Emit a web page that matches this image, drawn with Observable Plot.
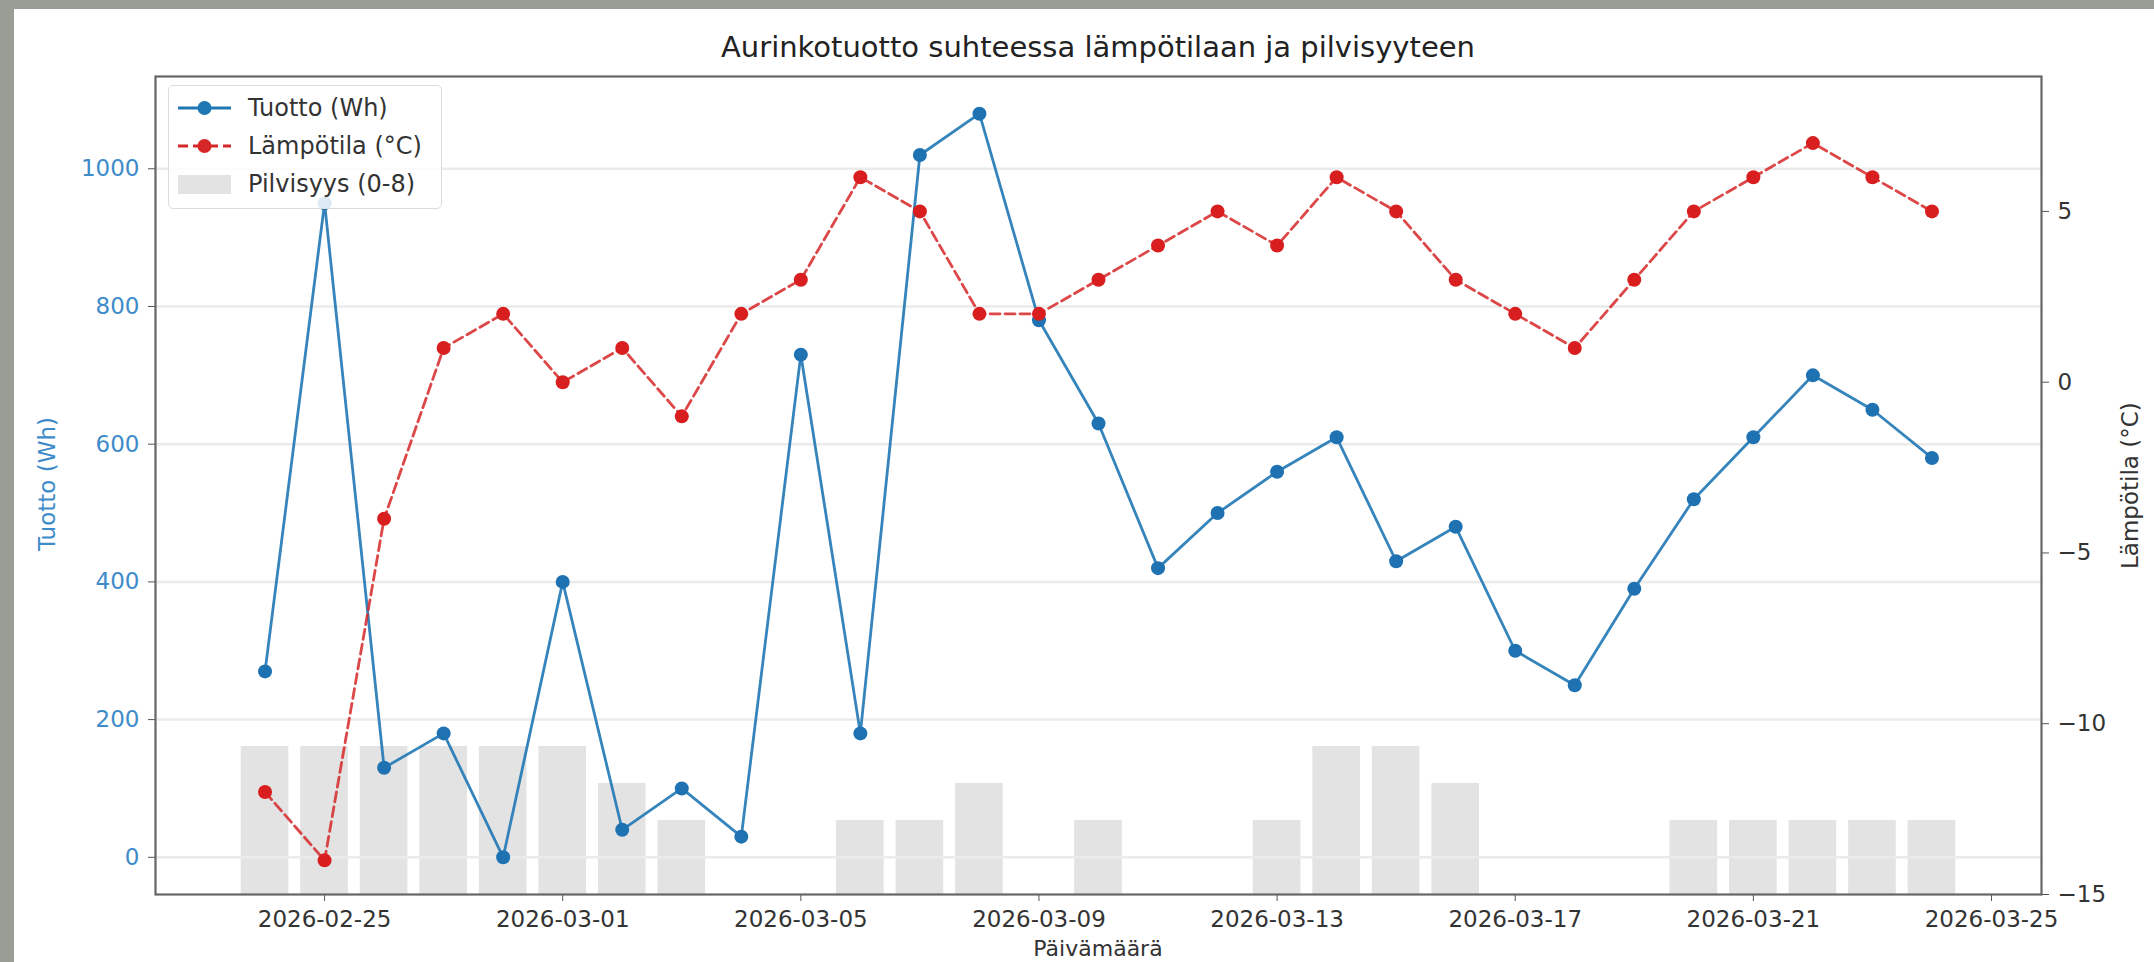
<!DOCTYPE html>
<html>
<head>
<meta charset="utf-8">
<script src="https://cdn.jsdelivr.net/npm/d3@7"></script>
<script src="https://cdn.jsdelivr.net/npm/@observablehq/plot@0.6"></script>
<style>
  body { margin: 0; background: #fff; font-family: "DejaVu Sans", sans-serif; }
  #root { position: relative; width: 2154px; height: 962px; overflow: hidden; background: #fff; }
  .layer { position: absolute; left: 0; top: 0; }
  .layer svg { display: block; max-width: none; }
  #bandTop { position: absolute; left: 0; top: 0; width: 2154px; height: 9px; background: #9a9d95; }
  #bandLeft { position: absolute; left: 0; top: 0; width: 14px; height: 962px; background: #9a9c96; }
  #title { position: absolute; left: 155px; width: 1886px; top: 30px; text-align: center; font-size: 29px; color: #222; line-height: 34px; }
  .ylab { position: absolute; white-space: nowrap; font-size: 23px; line-height: 26px; transform-origin: center center; }
  #ylabL { left: -23px; top: 471px; width: 140px; text-align: center; color: #3d8bc9; transform: rotate(-90deg); }
  #ylabR { left: 2048px; top: 474px; width: 164px; text-align: center; color: #333; transform: rotate(-90deg); }
  #xlab { position: absolute; left: 155px; width: 1886px; top: 936px; line-height: 25px; text-align: center; font-size: 22px; color: #333; }
  #legend { position: absolute; left: 168px; top: 85px; width: 274px; height: 124px; border: 1.5px solid #dcdcdc; border-radius: 5px; background: rgba(255,255,255,0.85); box-sizing: border-box; }
  #legend svg { position: absolute; left: 0; top: 0; }
</style>
</head>
<body>
<div id="root">
  <div id="bars" class="layer"></div>
  <div id="main" class="layer"></div>
  <div id="temp" class="layer"></div>
  <div id="title">Aurinkotuotto suhteessa lämpötilaan ja pilvisyyteen</div>
  <div id="ylabL" class="ylab">Tuotto (Wh)</div>
  <div id="ylabR" class="ylab">Lämpötila (°C)</div>
  <div id="xlab">Päivämäärä</div>
  <div id="legend"></div>
  <div id="bandTop"></div>
  <div id="bandLeft"></div>
</div>
<script>
// ---- data ----
const dates = ["2026-02-24","2026-02-25","2026-02-26","2026-02-27","2026-02-28","2026-03-01","2026-03-02","2026-03-03","2026-03-04","2026-03-05","2026-03-06","2026-03-07","2026-03-08","2026-03-09","2026-03-10","2026-03-11","2026-03-12","2026-03-13","2026-03-14","2026-03-15","2026-03-16","2026-03-17","2026-03-18","2026-03-19","2026-03-20","2026-03-21","2026-03-22","2026-03-23","2026-03-24"];
const tuotto = [270, 950, 130, 180, 0, 400, 40, 100, 30, 730, 180, 1020, 1080, 780, 630, 420, 500, 560, 610, 430, 480, 300, 250, 390, 520, 610, 700, 650, 580];
const lampotila = [-12, -14, -4, 1, 2, 0, 1, -1, 2, 3, 6, 5, 2, 2, 3, 4, 5, 4, 6, 5, 3, 2, 1, 3, 5, 6, 7, 6, 5];
const pilvisyys = [8, 8, 8, 8, 8, 8, 6, 4, 0, 0, 4, 4, 6, 0, 4, 0, 0, 4, 8, 8, 6, 0, 0, 0, 4, 4, 4, 4, 4];
const xTickLabels = ["2026-02-25","2026-03-01","2026-03-05","2026-03-09","2026-03-13","2026-03-17","2026-03-21","2026-03-25"];
const leftTicks = [0, 200, 400, 600, 800, 1000];
const rightTicks = [-15, -10, -5, 0, 5];

// ---- build ----
const DAY = 864e5;
const parse = s => new Date(s + "T00:00:00Z");
const rows = dates.map((d, i) => ({date: parse(d), tuotto: tuotto[i], temp: lampotila[i], cloud: pilvisyys[i]}));
const xTicks = xTickLabels.map(parse);
const xDomain = [new Date(+rows[0].date - 1.84 * DAY), new Date(+rows[rows.length - 1].date + 1.84 * DAY)];

const common = {
  width: 2154, height: 962,
  marginLeft: 155, marginRight: 113, marginTop: 76, marginBottom: 68,
  style: {background: "transparent", fontFamily: "DejaVu Sans", fontSize: "23px", overflow: "visible"}
};

const barsPlot = Plot.plot({
  ...common,
  x: {type: "utc", domain: xDomain, axis: null},
  y: {domain: [0, 44.2], axis: null},
  marks: [
    Plot.rect(rows.filter(d => d.cloud > 0), {
      x1: d => new Date(+d.date - 0.4 * DAY),
      x2: d => new Date(+d.date + 0.4 * DAY),
      y1: d => 0,
      y2: "cloud",
      fill: "#e3e3e3"
    })
  ]
});
document.getElementById("bars").appendChild(barsPlot);

const mainPlot = Plot.plot({
  ...common,
  x: {type: "utc", domain: xDomain},
  y: {domain: [-54, 1134]},
  marks: [
    Plot.gridY(leftTicks, {stroke: "#ebebeb", strokeOpacity: 1, strokeWidth: 2.5}),
    Plot.line(rows, {x: "date", y: "tuotto", stroke: "#1f77b4", strokeWidth: 2.8, strokeOpacity: 0.9}),
    Plot.dot(rows, {x: "date", y: "tuotto", r: 7, fill: "#1f72b2"}),
    Plot.axisY(leftTicks, {tickSize: 7, tickPadding: 9, stroke: "#555", fill: "#3d8bc9", label: null, tickFormat: d => String(d)}),
    Plot.axisX(xTicks, {tickSize: 7, tickPadding: 9, stroke: "#555", fill: "#333", label: null, tickFormat: d3.utcFormat("%Y-%m-%d")}),
    Plot.frame({stroke: "#666", strokeWidth: 2.2})
  ]
});
document.getElementById("main").appendChild(mainPlot);

const tempPlot = Plot.plot({
  ...common,
  x: {type: "utc", domain: xDomain, axis: null},
  y: {domain: [-15, 8.95]},
  marks: [
    Plot.line(rows, {x: "date", y: "temp", stroke: "#d62728", strokeWidth: 2.8, strokeDasharray: "10,5", strokeOpacity: 0.85}),
    Plot.dot(rows, {x: "date", y: "temp", r: 7, fill: "#d81e1e"}),
    Plot.axisY(rightTicks, {anchor: "right", tickSize: 7, tickPadding: 9, stroke: "#555", fill: "#333", label: null,
      tickFormat: d => d < 0 ? "\u2212" + Math.abs(d) : String(d)})
  ]
});
document.getElementById("temp").appendChild(tempPlot);

// ---- legend ----
const legendItems = [
  {label: "Tuotto (Wh)", kind: "line", color: "#1f77b4", dash: null},
  {label: "Lämpötila (°C)", kind: "line", color: "#d62728", dash: "10,5"},
  {label: "Pilvisyys (0-8)", kind: "patch", color: "#e3e3e3"}
];
const ns = "http://www.w3.org/2000/svg";
const lsvg = document.createElementNS(ns, "svg");
lsvg.setAttribute("width", 274); lsvg.setAttribute("height", 124);
lsvg.style.fontFamily = "DejaVu Sans"; lsvg.style.fontSize = "24px";
legendItems.forEach((it, i) => {
  const cy = 22 + i * 38;
  if (it.kind === "line") {
    const ln = document.createElementNS(ns, "line");
    ln.setAttribute("x1", 9); ln.setAttribute("x2", 62); ln.setAttribute("y1", cy); ln.setAttribute("y2", cy);
    ln.setAttribute("stroke", it.color); ln.setAttribute("stroke-width", 2.8);
    if (it.dash) ln.setAttribute("stroke-dasharray", it.dash);
    lsvg.appendChild(ln);
    const c = document.createElementNS(ns, "circle");
    c.setAttribute("cx", 35.5); c.setAttribute("cy", cy); c.setAttribute("r", 7); c.setAttribute("fill", it.color);
    lsvg.appendChild(c);
  } else {
    const r = document.createElementNS(ns, "rect");
    r.setAttribute("x", 9); r.setAttribute("y", cy - 9); r.setAttribute("width", 53); r.setAttribute("height", 19);
    r.setAttribute("fill", it.color);
    lsvg.appendChild(r);
  }
  const t = document.createElementNS(ns, "text");
  t.setAttribute("x", 79); t.setAttribute("y", cy); t.setAttribute("dy", "0.35em");
  t.setAttribute("fill", "#333"); t.textContent = it.label;
  lsvg.appendChild(t);
});
document.getElementById("legend").appendChild(lsvg);
</script>
</body>
</html>
